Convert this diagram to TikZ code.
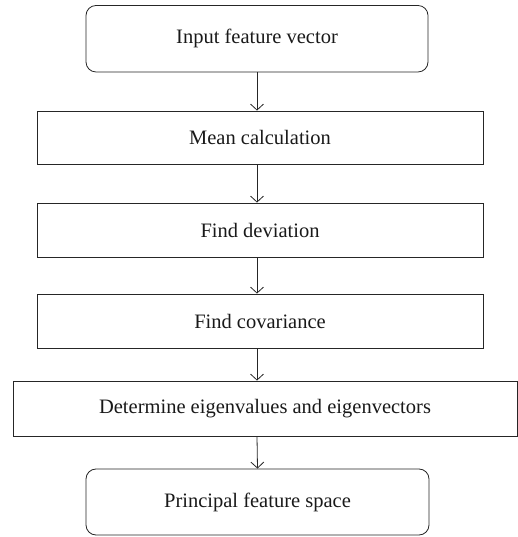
\documentclass[tikz,border=0pt]{standalone}
\usepackage{fontspec}
\setmainfont{Liberation Serif}
\usetikzlibrary{arrows.meta}
\begin{document}
\begin{tikzpicture}[x=1pt,y=1pt,
  box/.style={draw=black!85, line width=0.8pt, inner sep=0pt, font=\fontsize{20.5}{24}\selectfont, text=black!90},
  rbox/.style={box, rounded corners=10pt},
  arr/.style={draw=black!85, line width=0.8pt, -{Straight Barb[length=6pt,width=13pt]}}]
\useasboundingbox (0,0) rectangle (518,537);
\node[rbox, minimum width=342pt, minimum height=66.5pt] (b1) at (257,498.25) {Input feature vector};
\node[box, minimum width=446pt, minimum height=53pt] (b2) at (260,399.5) {Mean calculation};
\node[box, minimum width=446pt, minimum height=54pt] (b3) at (260,307) {Find deviation};
\node[box, minimum width=446pt, minimum height=54pt] (b4) at (260,216) {Find covariance};
\node[box, minimum width=504pt, minimum height=55pt] (b5) at (265,128.5) {Determine eigenvalues and eigenvectors};
\node[rbox, minimum width=343pt, minimum height=66pt] (b6) at (257.5,35) {Principal feature space};
\draw[arr] (b1.south) -- (b1.south |- b2.north);
\draw[arr] (b1.south |- b2.south) -- (b1.south |- b3.north);
\draw[arr] (b1.south |- b3.south) -- (b1.south |- b4.north);
\draw[arr] (b1.south |- b4.south) -- (b1.south |- b5.north);
\draw[arr] (b1.south |- b5.south) -- (b6.north);
\end{tikzpicture}
\end{document}
